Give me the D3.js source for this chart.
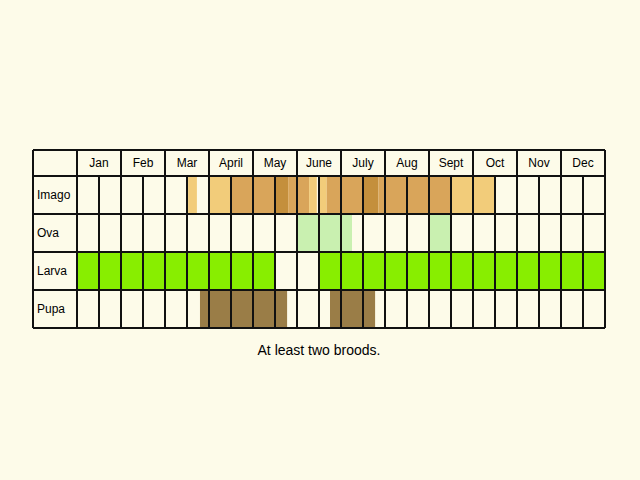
<!DOCTYPE html><html><head><script src="https://d3js.org/d3.v7.min.js"></script>
<style>body{margin:0;background:#fdfbe9}</style></head><body><script>
const months=["Jan","Feb","Mar","April","May","June","July","Aug","Sept","Oct","Nov","Dec"];
const stages=["Imago","Ova","Larva","Pupa"];
// segments: [stage, startHalfMonth, endHalfMonth, shade]
const imago=[[5.05,5.45,"l"],[6,7,"l"],[7,9,"m"],[9,9.6,"d"],[9.6,10,"m"],[10,10.55,"m"],[10.55,10.9,"l"],[11,11.35,"l"],[11.35,13,"m"],[13,13.7,"d"],[13.7,17,"m"],[17,19,"l"]];
const ova=[[10,12,"g"],[12,12.5,"g"],[16,17,"g"]];
const larva=[[0,9,"G"],[11,24,"G"]];
const pupa=[[5.59,9.55,"p"],[11.5,13.55,"p"]];
const caption="At least two broods.";
const colors={l:"#f2cc7a",m:"#d9a55a",d:"#c48f3c",g:"#c9f0b0",G:"#88ee00",p:"#9a7d47"};
const svg=d3.select("body").append("svg").attr("width",640).attr("height",480);
svg.append("rect").attr("width",640).attr("height",480).attr("fill","#fdfbe9");
const x=d3.scaleLinear().domain([0,24]).range([77,605]);
const y=d3.scaleBand().domain(stages).range([176,328]);
const segs=[imago,ova,larva,pupa];
segs.forEach((s,i)=>svg.selectAll(null).data(s).enter().append("rect")
 .attr("x",d=>x(d[0])).attr("width",d=>x(d[1])-x(d[0])).attr("y",y(stages[i])).attr("height",y.bandwidth())
 .attr("fill",d=>colors[d[2]]));
const g=svg.append("g").attr("stroke","#111").attr("stroke-width",2);
[150,...stages.map(s=>y(s)),328].forEach(v=>g.append("line").attr("x1",33).attr("x2",605).attr("y1",v).attr("y2",v));
g.append("line").attr("x1",33).attr("x2",33).attr("y1",150).attr("y2",328);
d3.range(25).forEach(k=>g.append("line").attr("x1",x(k)).attr("x2",x(k)).attr("y1",k%2?176:150).attr("y2",328));
svg.selectAll(null).data(months).enter().append("text").attr("x",(d,i)=>x(2*i+1)).attr("y",167)
 .attr("text-anchor","middle").attr("font-family","Liberation Sans, Arial").attr("font-size",12).text(d=>d);
svg.selectAll(null).data(stages).enter().append("text").attr("x",37).attr("y",s=>y(s)+y.bandwidth()/2+4)
 .attr("font-family","Liberation Sans, Arial").attr("font-size",12).text(d=>d);
svg.append("text").attr("x",319).attr("y",355).attr("text-anchor","middle").attr("font-family","Liberation Sans, Arial").attr("font-size",14).text(caption);
</script></body></html>
